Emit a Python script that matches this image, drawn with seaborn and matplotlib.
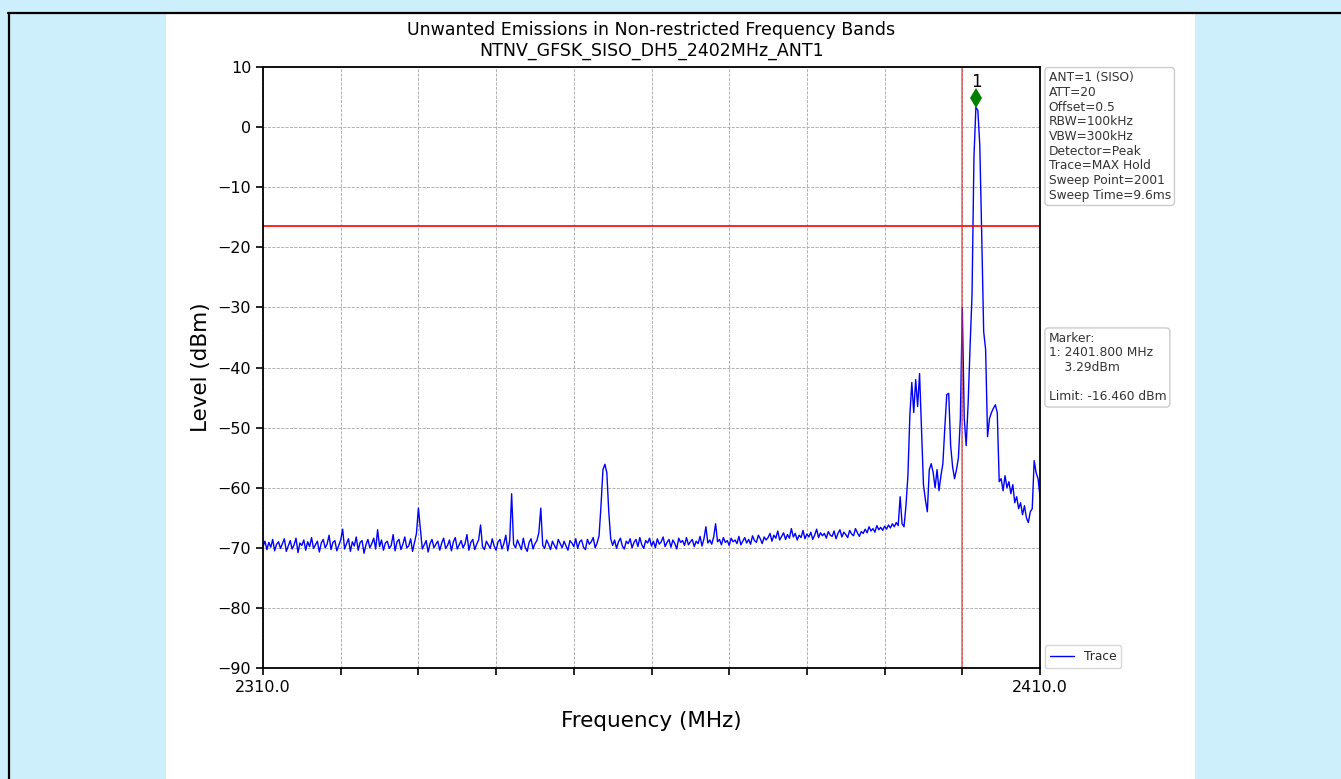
import numpy as np
import seaborn as sns
import matplotlib.pyplot as plt
from matplotlib.patches import Rectangle
from matplotlib.lines import Line2D

# sweep axis: 2310-2410 MHz, 0.25 MHz step (401 points)
f_start, f_stop, n_pts = 2310.0, 2410.0, 401

# level (dBm) per point
level = [
    # 2310 - 2349.75
    -69.8, -68.9, -70.3, -69.1, -69.9, -68.6, -70.5, -69.4, -69.0, -70.1,
    -69.3, -68.5, -70.6, -69.7, -68.8, -70.2, -69.5, -68.4, -70.8, -69.2,
    -69.6, -68.7, -70.4, -69.0, -69.8, -68.3, -70.1, -69.5, -68.9, -70.7,
    -69.2, -68.6, -70.0, -69.4, -67.9, -70.3, -69.1, -68.8, -70.5, -69.6,
    -68.7, -66.9, -70.2, -69.3, -68.5, -70.6, -69.0, -69.7, -68.2, -70.4,
    -69.1, -68.8, -70.9, -69.5, -68.6, -70.0, -69.3, -68.4, -70.2, -67.0,
    -69.8, -68.7, -70.4, -69.2, -68.9, -70.1, -69.6, -67.8, -70.5, -69.0,
    -68.6, -70.3, -69.4, -68.2, -70.0, -69.7, -68.5, -70.6, -69.1, -67.6,
    -63.4, -66.9, -70.2, -69.5, -68.8, -70.7, -69.3, -68.6, -70.0, -69.4,
    -68.9, -70.4, -69.2, -68.4, -70.1, -69.6, -68.7, -70.5, -69.0, -68.3,
    -70.2, -69.5, -68.8, -70.0, -69.3, -67.8, -70.4, -69.1, -68.6, -70.3,
    -69.4, -68.7, -66.2, -69.8, -70.3, -68.9, -69.5, -70.1, -68.5, -69.7,
    -70.4, -69.0, -68.6, -70.2, -69.3, -67.9, -70.5, -68.8, -61.0, -69.4,
    -70.0, -68.7, -69.5, -70.3, -68.4, -69.9, -70.6, -69.1, -68.5, -70.2,
    -69.3, -68.8, -67.5, -63.4, -69.6, -70.1, -68.7, -69.4, -70.3, -68.9,
    -69.6, -70.2, -68.6, -69.3, -70.0, -68.9, -69.7, -70.4, -68.8, -69.2,
    # 2350 - 2374.75
    -69.8, -68.5, -70.1, -69.0, -68.7, -69.9, -70.3, -68.6, -69.4, -69.0,
    -68.3, -70.0, -69.2, -68.0, -63.0, -57.0, -56.1, -57.5, -64.0, -68.5,
    -69.6, -68.7, -70.1, -69.0, -68.4, -69.7, -70.2, -68.9, -69.3, -68.5,
    -70.0, -69.1, -68.6, -69.8, -68.3, -69.5, -70.1, -68.8, -69.2, -68.4,
    -69.7, -68.9, -70.0, -68.5, -69.4, -69.0, -68.2, -69.8, -69.1, -68.6,
    -69.9, -68.7, -69.3, -70.2, -68.4, -69.1, -68.8, -69.6, -68.3, -69.5,
    -69.0, -68.6, -69.8, -68.9, -69.3, -68.1, -69.7, -68.5, -66.5, -69.2,
    -68.7, -69.4, -68.2, -66.0, -69.0, -68.6, -69.5, -68.3, -69.1, -68.8,
    -69.6, -68.4, -69.0, -68.7, -69.3, -68.1, -69.5, -68.9, -68.3, -69.2,
    -68.6, -69.4, -68.0, -68.8, -69.1, -67.9, -68.5, -69.3, -68.2, -68.7,
    # 2375 - 2392.25
    -68.3, -67.6, -68.9, -67.9, -68.4, -67.2, -68.7, -68.1, -67.5, -68.6,
    -67.8, -68.4, -66.8, -68.2, -67.6, -68.7, -67.9, -68.3, -67.1, -68.5,
    -67.7, -68.2, -67.4, -68.6, -67.9, -66.9, -68.3, -67.5, -68.0, -67.6,
    -68.4, -67.3, -67.9, -68.1, -67.2, -68.5, -67.6, -67.0, -68.2, -67.4,
    -67.8, -68.3, -67.1, -67.7, -68.0, -66.8, -67.5, -68.1, -67.3, -67.6,
    -66.9, -67.5, -66.5, -67.2, -66.8, -67.4, -66.3, -67.0, -66.6, -67.1,
    -66.4, -66.9, -66.2, -66.7, -66.0, -66.5, -65.8, -66.3, -61.5, -66.0,
    # 2392.5 - 2410
    -66.5, -63.0, -58.0, -48.0, -42.5, -47.5, -42.0, -46.5, -41.0, -50.0,
    -59.5, -62.0, -64.0, -57.0, -56.0, -57.5, -60.0, -57.0, -60.5, -58.0,
    -56.0, -50.0, -44.5, -44.3, -53.0, -56.5, -58.5, -57.0, -55.0, -48.5,
    -30.0, -48.5, -53.0, -46.0, -36.5, -28.0, -5.0, 3.29, 2.8, -3.0,
    -18.0, -34.0, -37.0, -51.5, -48.5, -47.5, -46.8, -46.2, -47.5, -59.0,
    -58.5, -60.5, -58.0, -60.0, -59.0, -61.0, -59.5, -62.5, -61.5, -63.5,
    -62.5, -64.5, -63.0, -65.0, -65.8, -64.0, -63.5, -55.5, -57.5, -58.5,
    -61.5,
]
freq = np.linspace(f_start, f_stop, n_pts)

limit_dbm = -16.46
marker_freq = 2401.8
marker_level = 3.29
edge_freq = 2400.0

title = "Unwanted Emissions in Non-restricted Frequency Bands\nNTNV_GFSK_SISO_DH5_2402MHz_ANT1"
settings = ["ANT=1 (SISO)", "ATT=20", "Offset=0.5", "RBW=100kHz", "VBW=300kHz",
            "Detector=Peak", "Trace=MAX Hold", "Sweep Point=2001", "Sweep Time=9.6ms"]
marker_text = ["Marker:", "1: %.3f MHz" % marker_freq, "    %.2fdBm" % marker_level,
               "", "Limit: %.3f dBm" % limit_dbm]

sns.set_style("ticks")
plt.rcParams['font.family'] = ['DejaVu Sans']

W, H = 1341, 779
fig = plt.figure(figsize=(W / 100, H / 100), dpi=100, facecolor='#cdeefb')

# page look around the embedded chart
fig.patches.append(Rectangle((166 / W, 0), (1195 - 166) / W, 1 - 13 / H,
                             transform=fig.transFigure, fc='white', ec='none', zorder=-5))
fig.lines.append(Line2D([8 / W, 1], [1 - 12.5 / H] * 2, transform=fig.transFigure,
                        color='black', lw=1.6, zorder=-4))
fig.lines.append(Line2D([8.5 / W] * 2, [0, 1 - 12.5 / H], transform=fig.transFigure,
                        color='black', lw=1.6, zorder=-4))

ax = fig.add_axes([263 / W, (H - 668) / H, 777 / W, 601 / H])
ax.set_facecolor('white')

sns.lineplot(x=freq, y=level, ax=ax, color='blue', lw=1.0, label='Trace')
ax.axhline(limit_dbm, color='red', lw=1.2)
ax.axvline(edge_freq, color='#e03030', lw=1.4, alpha=0.6)
ax.plot(marker_freq, marker_level + 1.5, marker='d', color='green', ms=10, mew=0)
ax.text(marker_freq, marker_level + 4.2, '1', ha='center', va='center', fontsize=12,
        color='black')

ax.set_xlim(f_start, f_stop)
ax.set_ylim(-90, 10)
ax.set_xticks(np.arange(2310, 2411, 10))
ax.set_xticklabels(['2310.0'] + [''] * 9 + ['2410.0'])
ax.set_yticks(np.arange(-90, 11, 10))
ax.tick_params(labelsize=11.5, length=5, width=1.2, color='black', labelcolor='black')
ax.grid(True, ls='--', color='0.65', lw=0.6)
for s in ax.spines.values():
    s.set_color('black')
    s.set_linewidth(1.3)

ax.set_title(title, fontsize=12.5, pad=8, color='black')
ax.set_xlabel('Frequency (MHz)', fontsize=15.5, labelpad=12, color='black')
ax.set_ylabel('Level (dBm)', fontsize=15.5, labelpad=5, color='black')

box = dict(boxstyle='round,pad=0.3', fc='white', ec='0.8', lw=1)
ax.text(1.011, 0.993, "\n".join(settings), transform=ax.transAxes, fontsize=8.8,
        linespacing=1.17, va='top', ha='left', color='0.2', bbox=box)
ax.text(1.011, 0.5, "\n".join(marker_text), transform=ax.transAxes, fontsize=8.8,
        linespacing=1.17, va='center', ha='left', color='0.2', bbox=box)
ax.legend(loc='lower left', bbox_to_anchor=(1.006, 0.0), borderaxespad=0, fontsize=8.8)

fig.savefig('out.png', dpi=100, facecolor=fig.get_facecolor())
